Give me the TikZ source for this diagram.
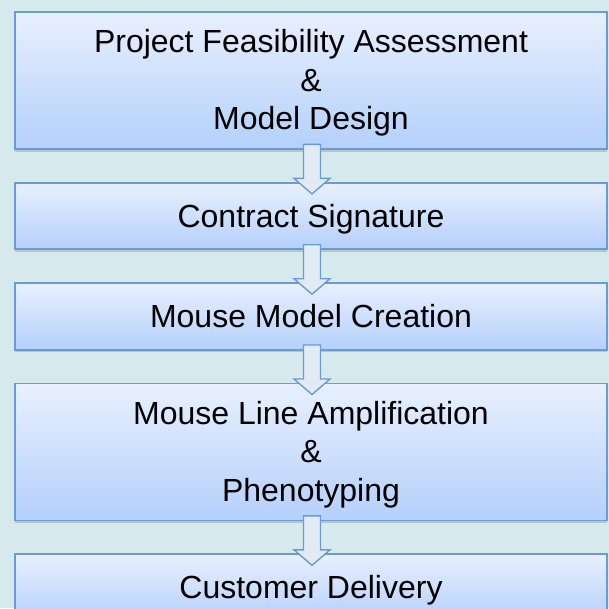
\documentclass[tikz,border=0pt]{standalone}
\usepackage{fontspec}
\setmainfont{Liberation Sans}
\usetikzlibrary{positioning,shadows}
\definecolor{bgcyan}{RGB}{214,234,237}
\definecolor{boxtop}{RGB}{232,240,254}
\definecolor{boxbottom}{RGB}{180,208,251}
\definecolor{boxline}{RGB}{106,155,210}
\definecolor{arrowfill}{RGB}{226,235,244}
\tikzset{
  stage/.style={draw=boxline, line width=1.8pt, top color=boxtop, bottom color=boxbottom,
    minimum width=592pt, inner sep=0pt, align=center,
    font=\fontsize{32pt}{38.5pt}\selectfont,
    drop shadow={shadow xshift=-0.5pt, shadow yshift=-2.5pt, opacity=.35}},
  onerow/.style={stage, minimum height=66.5pt, text height=23pt, text depth=0pt},
  threerow/.style={stage, minimum height=137pt, text height=100pt, text depth=1.5pt},
  flowarrow/.style={draw=boxline, line width=1.4pt, fill=arrowfill, line join=miter}
}
\begin{document}
\begin{tikzpicture}[x=1pt, y=-1pt, node distance=32pt]
  \fill[bgcyan] (0,0) rectangle (609,608);
  \useasboundingbox (0,0) rectangle (609,608);
  \node[threerow] (feas) at (311,80.5) {Project Feasibility Assessment\\\&\\Model Design};
  \node[onerow, below=of feas] (contract) {Contract Signature};
  \node[onerow, below=of contract] (creation) {Mouse Model Creation};
  \node[threerow, below=of creation] (amplif) {Mouse Line Amplification\\\&\\Phenotyping};
  \node[onerow, below=of amplif] (delivery) {Customer Delivery};
  % block arrows between the stages
  \foreach \a/\b in {feas/contract, contract/creation, creation/amplif, amplif/delivery}
    \draw[flowarrow] ([xshift=-7.5pt,yshift=5.5pt]\a.south) -- ([xshift=-7.5pt,yshift=3.5pt]\b.north)
      -- ([xshift=-17pt,yshift=3.5pt]\b.north) -- ([xshift=1pt,yshift=-12pt]\b.north)
      -- ([xshift=19pt,yshift=3.5pt]\b.north) -- ([xshift=9.5pt,yshift=3.5pt]\b.north)
      -- ([xshift=9.5pt,yshift=5.5pt]\a.south) -- cycle;
\end{tikzpicture}
\end{document}
